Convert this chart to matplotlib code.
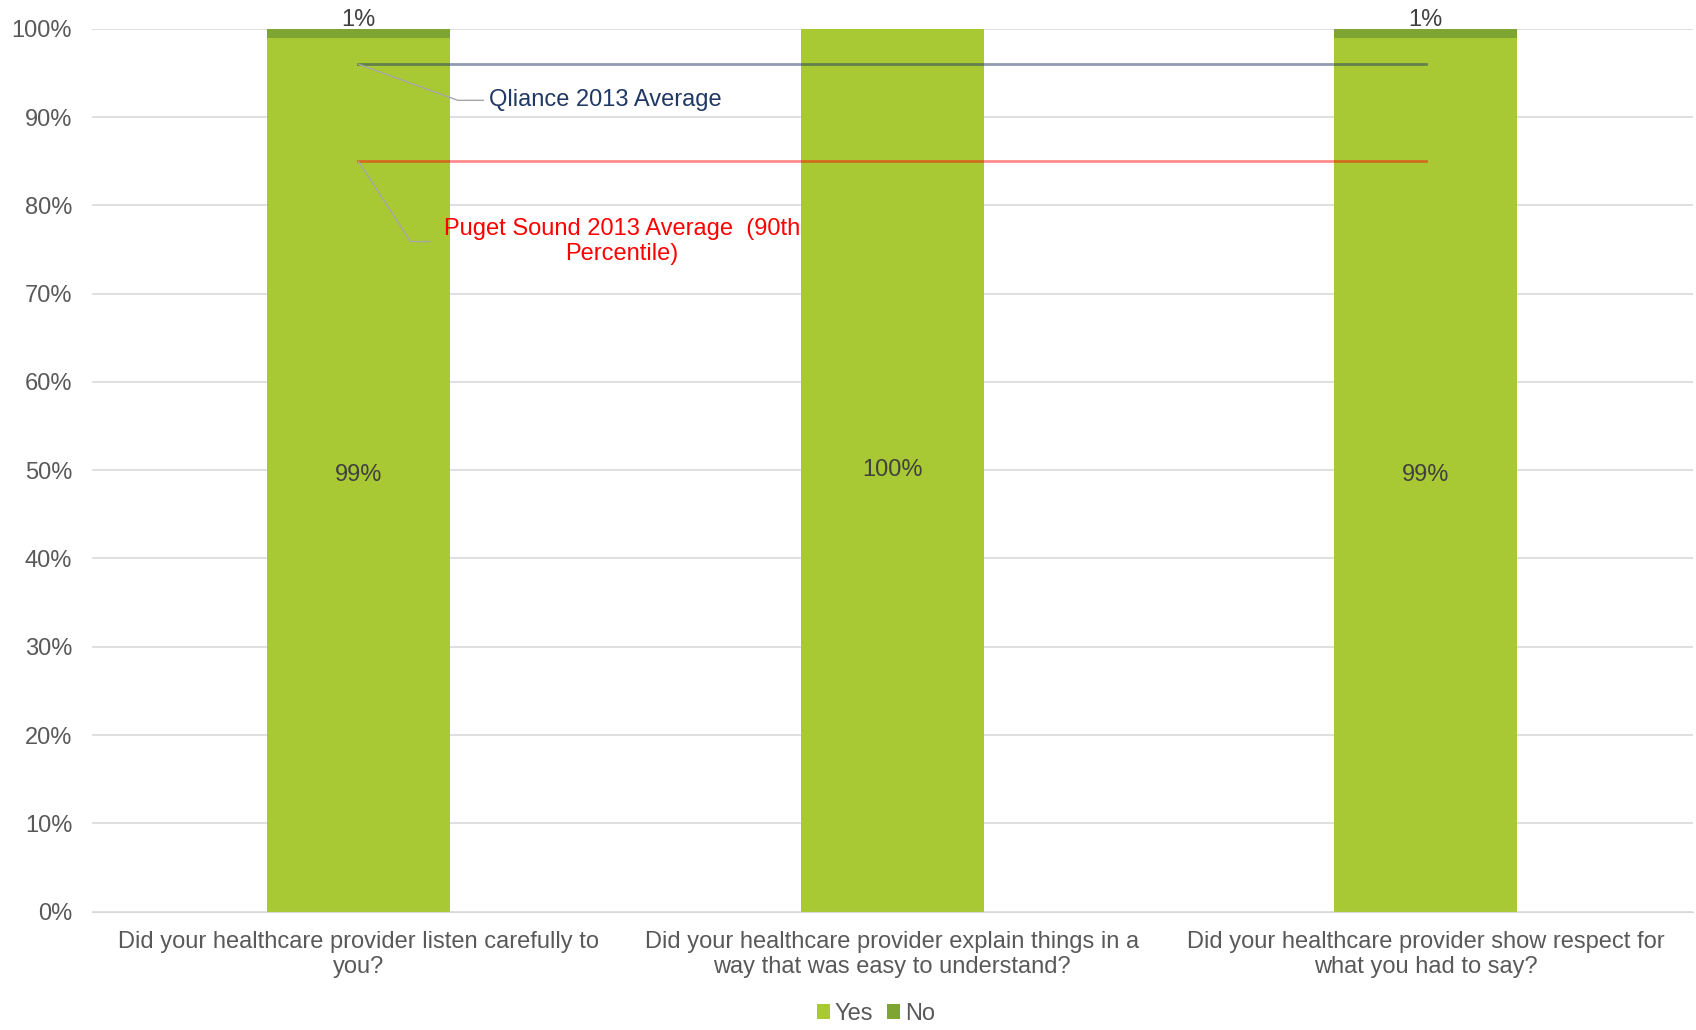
import numpy as np
import matplotlib.pyplot as plt
from matplotlib.ticker import PercentFormatter

plt.rcParams['font.family'] = ['Liberation Sans', 'DejaVu Sans']

questions = ['Did your healthcare provider listen carefully to\nyou?',
             'Did your healthcare provider explain things in a\nway that was easy to understand?',
             'Did your healthcare provider show respect for\nwhat you had to say?']
yes = [99, 100, 99]
no = [1, 0, 1]
qliance_avg = 96
puget_avg = 85

yes_col = '#a9c934'
no_col = '#7ea432'
txt_col = '#595959'
fs = 17

fig = plt.figure(figsize=(16.96, 10.30), dpi=100)
ax = fig.add_axes([0.054, 0.115, 0.944, 0.857])

x = np.arange(len(questions))
w = 0.343
ax.bar(x, yes, w, color=yes_col, label='Yes', zorder=2)
ax.bar(x, no, w, bottom=yes, color=no_col, label='No', zorder=2)

for i in range(len(x)):
    ax.text(x[i], yes[i] / 2, f'{yes[i]}%', ha='center', va='center',
            fontsize=fs, color='#404040', zorder=4)
    if no[i] > 0:
        ax.text(x[i], yes[i] + no[i] - 0.2, f'{no[i]}%', ha='center', va='bottom',
                fontsize=fs, color='#404040', zorder=4)

# benchmark lines across the questions
ax.plot([x[0], x[-1]], [qliance_avg] * 2, color='#1f3864', alpha=0.5, lw=2, zorder=3)
ax.plot([x[0], x[-1]], [puget_avg] * 2, color='#ff0000', alpha=0.45, lw=2, zorder=3)

ax.annotate('Qliance 2013 Average', xy=(x[0], qliance_avg), xytext=(0.245, 91.9),
            fontsize=fs, color='#1f3864', va='center', ha='left',
            arrowprops=dict(arrowstyle='-', color='#a6a6a6', lw=1,
                            connectionstyle='angle,angleA=0,angleB=160,rad=0',
                            shrinkA=2, shrinkB=0))
ax.annotate('Puget Sound 2013 Average  (90th\nPercentile)', xy=(x[0], puget_avg),
            xytext=(0.494, 75.9), fontsize=fs, color='#ff0000', va='center',
            ha='center', multialignment='center', linespacing=1.15,
            arrowprops=dict(arrowstyle='-', color='#a6a6a6', lw=1,
                            connectionstyle='angle,angleA=0,angleB=123,rad=0',
                            shrinkA=8, shrinkB=0, relpos=(0.0, 0.5)))

ax.set_ylim(0, 100)
ax.set_xlim(-0.5, 2.5)
ax.set_yticks(np.arange(0, 101, 10))
ax.yaxis.set_major_formatter(PercentFormatter(decimals=0))
ax.set_xticks(x)
ax.set_xticklabels(questions, fontsize=fs, color=txt_col, linespacing=1.15)
ax.tick_params(axis='y', labelsize=fs, labelcolor=txt_col, length=0, pad=14)
ax.tick_params(axis='x', length=0, pad=14)
ax.grid(axis='y', color='#d9d9d9', lw=1.2, zorder=0)
for s in ['top', 'right', 'left']:
    ax.spines[s].set_visible(False)
ax.spines['bottom'].set_color('#d9d9d9')

ax.legend(loc='center', bbox_to_anchor=(0.49, -0.116), ncol=2, frameon=False,
          fontsize=fs, handlelength=0.55, handleheight=0.55, handletextpad=0.2,
          columnspacing=0.6, labelcolor=txt_col, borderpad=0.1)

fig.savefig('out.png', dpi=100)
